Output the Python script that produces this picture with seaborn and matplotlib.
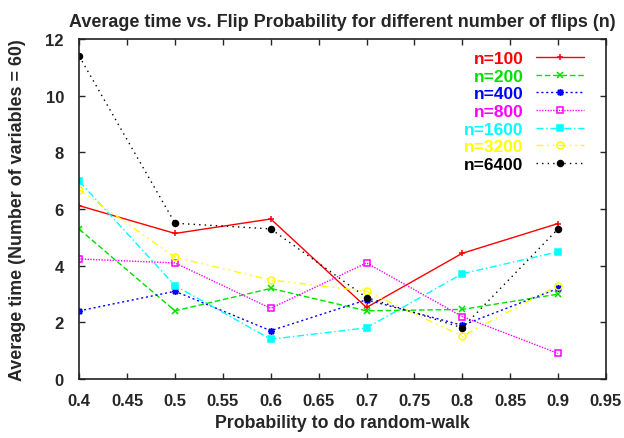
import numpy as np
import pandas as pd
import matplotlib
matplotlib.use("Agg")
import matplotlib.pyplot as plt
import seaborn as sns

# ----------------------------------------------------------------------------------
# Data
# ----------------------------------------------------------------------------------
prob = [0.4, 0.5, 0.6, 0.7, 0.8, 0.9]
n100 = [6.12, 5.14, 5.65, 2.53, 4.44, 5.49]
n200 = [5.29, 2.41, 3.20, 2.41, 2.46, 3.00]
n400 = [2.41, 3.10, 1.71, 2.80, 1.90, 3.20]
n800 = [4.24, 4.10, 2.50, 4.10, 2.21, 0.91]
n1600 = [6.98, 3.30, 1.41, 1.81, 3.72, 4.49]
n3200 = [6.68, 4.30, 3.50, 3.10, 1.52, 3.30]
n6400 = [11.39, 5.50, 5.30, 2.88, 1.81, 5.30]

labels = ["n=100", "n=200", "n=400", "n=800", "n=1600", "n=3200", "n=6400"]
series = [n100, n200, n400, n800, n1600, n3200, n6400]

x_ticks = [0.4, 0.45, 0.5, 0.55, 0.6, 0.65, 0.7, 0.75, 0.8, 0.85, 0.9, 0.95]
y_ticks = [0, 2, 4, 6, 8, 10, 12]

df = pd.DataFrame({
    "prob": prob * len(labels),
    "time": [v for s in series for v in s],
    "n": [lab for lab in labels for _ in prob],
})

# gnuplot-like styles
colors = ["#ff0000", "#00e000", "#0000ff", "#ff00ff", "#00ffff", "#ffff00", "#000000"]
dashes = ["-", (0, (4, 2)), (0, (1.5, 2)), (0, (1, 1)), (0, (5, 2, 1, 2)), (0, (5, 3, 1, 3, 1, 3)), (0, (1, 3))]
markers = ["+", "x", (8, 2, 0), "s", "s", "o", "o"]
msizes = [5, 5, 5, 5, 5, 5, 4.3]
filled = [True, True, True, False, True, False, True]

# ----------------------------------------------------------------------------------
# Plot
# ----------------------------------------------------------------------------------
sns.set_theme(style="ticks")
plt.rcParams["font.family"] = ["Liberation Sans", "DejaVu Sans"]
plt.rcParams["font.weight"] = "bold"

fig = plt.figure(figsize=(6.24, 4.39), dpi=100)
ax = fig.add_axes([0.127, 0.134, 0.844, 0.775])

for i, lab in enumerate(labels):
    sub = df[df["n"] == lab]
    sns.lineplot(data=sub, x="prob", y="time", ax=ax, color=colors[i],
                 linestyle=dashes[i], linewidth=1.0, marker=markers[i],
                 markersize=msizes[i], markeredgewidth=1.1, markeredgecolor=colors[i],
                 markerfacecolor=colors[i] if filled[i] else "none",
                 label=lab, estimator=None, errorbar=None)

ax.set_xlim(0.4, 0.95)
ax.set_ylim(0, 12)
ax.set_xticks(x_ticks)
ax.set_xticklabels([f"{t:g}" for t in x_ticks])
ax.set_yticks(y_ticks)
ax.tick_params(direction="in", length=4, width=1, top=True, right=True,
               labelsize=12, labeltop=False, labelright=False)
ax.tick_params(axis="x", pad=10)
ax.tick_params(axis="y", pad=11)
for lbl in ax.get_xticklabels() + ax.get_yticklabels():
    lbl.set_fontweight("bold")
for sp in ax.spines.values():
    sp.set_linewidth(1.2)
    sp.set_color("#222222")

ax.set_title("Average time vs. Flip Probability for different number of flips (n)",
             fontsize=13, fontweight="bold", pad=9)
ax.set_xlabel("Probability to do random-walk", fontsize=12.8, fontweight="bold", labelpad=4)
ax.set_ylabel("Average time (Number of variables = 60)", fontsize=12.9, fontweight="bold", labelpad=14)

leg = ax.legend(loc="upper right", frameon=False, markerfirst=False, handlelength=2.8,
                handletextpad=0.7, labelspacing=0.14, borderaxespad=0.3,
                bbox_to_anchor=(0.982, 1.0),
                prop={"size": 12.5, "weight": "bold"})
for txt, c in zip(leg.get_texts(), colors):
    txt.set_color(c)

fig.savefig("out.png", dpi=100)
plt.close(fig)
